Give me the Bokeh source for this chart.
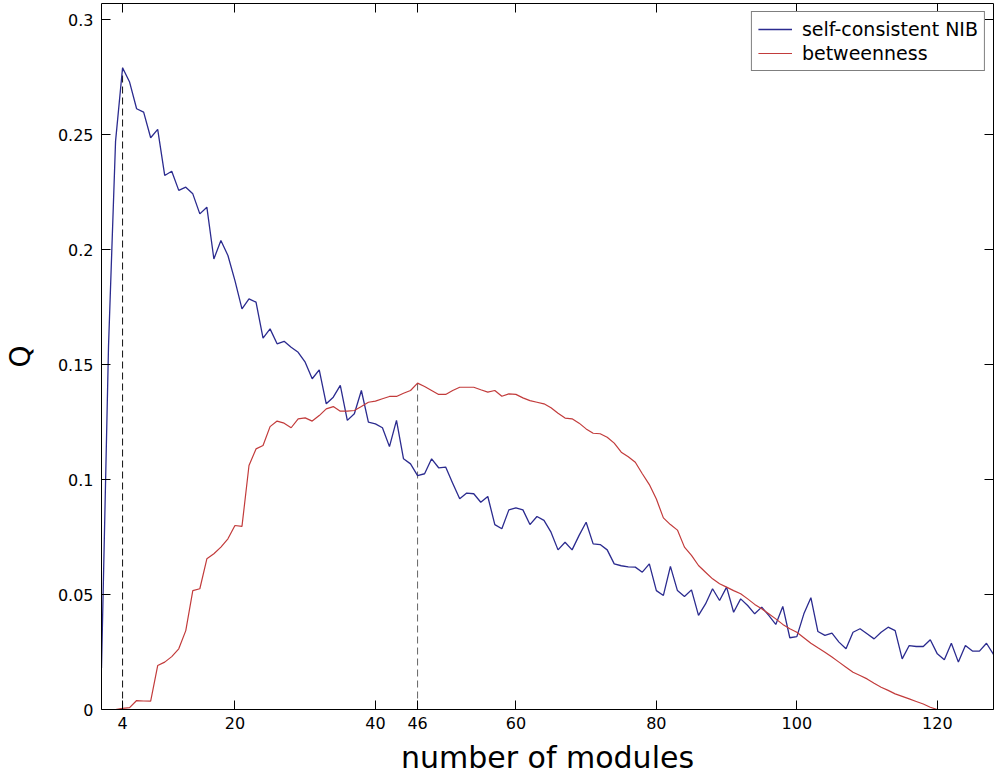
from bokeh.plotting import figure
from bokeh.models import Range1d, LinearAxis, FixedTicker, Legend, LegendItem, ColumnDataSource
from bokeh.embed import file_html
from bokeh.resources import INLINE

# number of modules
modules = list(range(1, 129))

# self-consistent NIB modularity Q (n = 1..128)
q_nib = [
    0.018, 0.158, 0.247, 0.279, 0.2728, 0.2612, 0.2597, 0.2486, 0.2522, 0.2322,
    0.2340, 0.2257, 0.2271, 0.2242, 0.2155, 0.2184, 0.1959, 0.2039, 0.1974, 0.1865,
    0.1742, 0.1785, 0.1771, 0.1615, 0.1655, 0.1590, 0.1601, 0.1575, 0.1553, 0.1510,
    0.1438, 0.1477, 0.1329, 0.1358, 0.1409, 0.1257, 0.1286, 0.1387, 0.1249, 0.1242,
    0.1225, 0.1143, 0.1257, 0.1090, 0.1068, 0.1017, 0.1025, 0.1090, 0.1051, 0.1054,
    0.0984, 0.0916, 0.0941, 0.0938, 0.0901, 0.0926, 0.0804, 0.0786, 0.0868, 0.0877,
    0.0868, 0.0804, 0.0839, 0.0822, 0.0771, 0.0694, 0.0727, 0.0694, 0.0757, 0.0814,
    0.0720, 0.0717, 0.0694, 0.0633, 0.0625, 0.0620, 0.0619, 0.0597, 0.0633, 0.0517,
    0.0496, 0.0622, 0.0517, 0.0491, 0.0520, 0.0409, 0.0459, 0.0525, 0.0474, 0.0532,
    0.0423, 0.0481, 0.0452, 0.0416, 0.0445, 0.0409, 0.0370, 0.0448, 0.0312, 0.0317,
    0.0416, 0.0486, 0.0339, 0.0322, 0.0332, 0.0293, 0.0264, 0.0336, 0.0351, 0.0329,
    0.0307, 0.0336, 0.0358, 0.0343, 0.0220, 0.0278, 0.0274, 0.0274, 0.0303, 0.0242,
    0.0216, 0.0288, 0.0206, 0.0278, 0.0254, 0.0254, 0.0288, 0.0239,
]

# betweenness modularity Q (n = 1..120)
modules_btw = list(range(1, 121))
q_btw = [
    0.0, 0.0, 0.0, 0.0005, 0.0008, 0.0039, 0.0037, 0.0036, 0.0191, 0.0206,
    0.0230, 0.0264, 0.0343, 0.0517, 0.0525, 0.0655, 0.0677, 0.0706, 0.0742, 0.0800,
    0.0796, 0.1061, 0.1133, 0.1148, 0.1230, 0.1254, 0.1245, 0.1225, 0.1264, 0.1268,
    0.1254, 0.1278, 0.1307, 0.1317, 0.1297, 0.1297, 0.1300, 0.1317, 0.1336, 0.1341,
    0.1351, 0.1361, 0.1361, 0.1375, 0.1387, 0.1419, 0.1404, 0.1387, 0.1370, 0.1370,
    0.1387, 0.1401, 0.1401, 0.1401, 0.1390, 0.1380, 0.1387, 0.1362, 0.1372, 0.1370,
    0.1355, 0.1343, 0.1336, 0.1329, 0.1312, 0.1288, 0.1267, 0.1264, 0.1245, 0.1220,
    0.1201, 0.1199, 0.1184, 0.1158, 0.1119, 0.1099, 0.1075, 0.1025, 0.0978, 0.0915,
    0.0833, 0.0804, 0.0780, 0.0706, 0.0670, 0.0626, 0.0597, 0.0568, 0.0547, 0.0532,
    0.0517, 0.0503, 0.0481, 0.0457, 0.0438, 0.0416, 0.0394, 0.0370, 0.0351, 0.0336,
    0.0312, 0.0288, 0.0268, 0.0249, 0.0228, 0.0206, 0.0184, 0.0162, 0.0148, 0.0133,
    0.0114, 0.0097, 0.0083, 0.0068, 0.0057, 0.0046, 0.0035, 0.0024, 0.0010, 0.0,
]

# marked optima
marked_x = [4, 46]
marked_q = [q_nib[3], q_btw[45]]

x_ticks = [4, 20, 40, 46, 60, 80, 100, 120]
y_ticks = [0, 0.05, 0.1, 0.15, 0.2, 0.25, 0.3]
y_tick_labels = ["0", "0.05", "0.1", "0.15", "0.2", "0.25", "0.3"]

FONT = "DejaVu Sans"

p = figure(width=994, height=780, output_backend="svg", toolbar_location=None,
           x_range=Range1d(1, 128), y_range=Range1d(0, 0.30696),
           min_border_left=101, min_border_right=1, min_border_top=3, min_border_bottom=71)
p.grid.visible = False
p.outline_line_color = None
p.background_fill_color = "white"
p.border_fill_color = "white"

# dashed markers
seg_src = ColumnDataSource(dict(x=marked_x, y0=[0, 0], y1=marked_q,
                                color=["#111111", "#666666"]))
p.segment(x0="x", y0="y0", x1="x", y1="y1", source=seg_src,
          line_color="color", line_width=1, line_dash="7 4")

r1 = p.line(modules, q_nib, line_color="#2b2b8f", line_width=1.3)
r2 = p.line(modules_btw, q_btw, line_color="#c23b3b", line_width=1.2)

def style_axis(ax, labels=True):
    ax.axis_line_color = "black"
    ax.axis_line_width = 1
    ax.major_tick_line_color = "black"
    ax.major_tick_in = 9
    ax.major_tick_out = 0
    ax.minor_tick_line_color = None
    ax.major_label_text_font = FONT
    if labels:
        ax.major_label_text_color = "black"
        ax.major_label_text_font_size = "16px"
    else:
        ax.major_label_text_color = None
        ax.major_label_text_font_size = "1px"
        ax.major_label_standoff = 0

xa = p.xaxis[0]
xa.ticker = FixedTicker(ticks=x_ticks)
style_axis(xa)
xa.major_label_standoff = 7
xa.axis_label = "number of modules"
xa.axis_label_text_font = FONT
xa.axis_label_text_font_size = "30px"
xa.axis_label_text_font_style = "normal"
xa.axis_label_text_color = "black"
xa.axis_label_standoff = 8

ya = p.yaxis[0]
ya.ticker = FixedTicker(ticks=y_ticks)
ya.major_label_overrides = dict(zip(y_ticks, y_tick_labels))
style_axis(ya)
ya.major_label_standoff = 8
ya.axis_label = "Q"
ya.axis_label_text_font = FONT
ya.axis_label_text_font_size = "28px"
ya.axis_label_text_font_style = "normal"
ya.axis_label_text_color = "black"
ya.axis_label_standoff = 18

top = LinearAxis(ticker=FixedTicker(ticks=x_ticks))
style_axis(top, labels=False)
p.add_layout(top, "above")

right = LinearAxis(ticker=FixedTicker(ticks=y_ticks))
style_axis(right, labels=False)
p.add_layout(right, "right")

legend = Legend(items=[LegendItem(label="self-consistent NIB", renderers=[r1]),
                       LegendItem(label="betweenness", renderers=[r2])],
                location="top_right", margin=8, padding=6, spacing=2,
                label_height=20, glyph_height=20, glyph_width=34, label_standoff=10,
                label_text_font=FONT, label_text_font_size="19px", label_text_color="black",
                border_line_color="black", border_line_width=1,
                background_fill_color="white", background_fill_alpha=1.0)
p.add_layout(legend)

open("out.html", "w").write(file_html(p, INLINE))
